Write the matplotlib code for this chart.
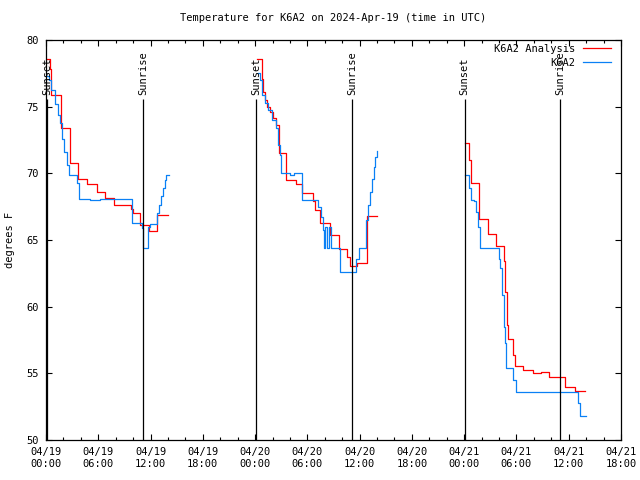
import numpy as np
import matplotlib
matplotlib.use('Agg')
import matplotlib.pyplot as plt
from matplotlib.ticker import MultipleLocator

# hours after 2024-04-19 00:00 UTC, temperature in degrees F
ana_h1 = [0.11, 0.46, 0.61, 1.69, 2.75, 3.71, 4.67, 5.82, 6.77, 7.81, 9.72, 9.99,
          10.79, 11.86, 12.71, 13.97]
ana_t1 = [78.6, 77.8, 75.9, 73.4, 70.75, 69.6, 69.2, 68.6, 68.15, 67.6, 67.3, 67.0,
          66.1, 65.7, 66.9, 66.9]
ana_h2 = [24.22, 24.76, 24.91, 25.14, 25.37, 25.71, 26.06, 26.4, 26.74, 27.58, 28.73,
          29.42, 30.59, 30.88, 31.45, 32.6, 33.67, 34.52, 34.9, 35.73, 36.81, 37.96]
ana_t2 = [78.6, 77.1, 76.1, 75.5, 75.0, 74.6, 74.15, 73.6, 71.5, 69.5, 69.2,
          68.5, 67.9, 67.25, 66.25, 65.4, 64.3, 63.75, 63.05, 63.3, 66.8, 66.8]
ana_h3 = [48.13, 48.59, 48.75, 49.67, 50.74, 51.65, 52.6, 52.74, 52.91, 53.03, 53.64,
          53.83, 54.72, 55.87, 56.78, 57.77, 59.57, 60.72, 61.87]
ana_t3 = [72.25, 71.0, 69.25, 66.55, 65.45, 64.55, 63.4, 61.1, 58.6, 57.6, 56.4,
          55.55, 55.25, 55.0, 55.1, 54.75, 54.0, 53.65, 53.65]

obs_h1 = [0.08, 0.34, 0.61, 1.0, 1.38, 1.61, 1.84, 2.07, 2.41, 2.67, 3.59, 3.75, 5.05,
          6.2, 7.69, 9.84, 10.98, 11.1, 11.67, 11.94, 12.74, 12.97, 13.2, 13.43,
          13.66, 13.83, 14.12]
obs_t1 = [77.3, 77.0, 76.25, 75.2, 74.4, 73.75, 72.6, 71.6, 70.6, 69.9, 69.3, 68.05, 68.0,
          68.05, 68.1, 66.3, 65.9, 64.4, 66.0, 66.2, 67.0, 67.6, 68.3, 68.9,
          69.5, 69.9, 69.9]
obs_h2 = [24.33, 24.56, 24.79, 25.14, 25.48, 25.94, 26.37, 26.63, 26.82, 27.01, 28.01,
          28.47, 29.38, 31.26, 31.57, 31.8, 31.91, 32.08, 32.31, 32.48, 32.68, 33.75,
          35.58, 35.87, 36.73, 36.96, 37.19, 37.42, 37.65, 37.82, 37.99]
obs_t2 = [77.5, 77.0, 75.9, 75.3, 74.75, 74.0, 73.4, 72.1, 71.4, 70.0, 69.9,
          70.0, 68.0, 67.5, 66.75, 65.75, 64.4, 66.0, 64.4, 66.0, 64.4, 62.6,
          63.6, 64.4, 66.5, 67.6, 68.6, 69.6, 70.5, 71.2, 71.7]
obs_h3 = [48.1, 48.5, 48.78, 49.07, 49.36, 49.59, 49.82, 51.94, 52.11, 52.34, 52.57,
          52.69, 52.8, 53.64, 53.95, 61.01, 61.3, 61.98]
obs_t3 = [69.9, 68.9, 68.0, 67.9, 67.1, 66.0, 64.4, 63.6, 62.9, 60.9, 58.5,
          57.25, 55.4, 54.5, 53.6, 52.8, 51.8, 51.8]

sunset_h = [0.1, 24.1, 48.05]
sunrise_h = [11.13, 35.1, 59.05]

mono = 'DejaVu Sans Mono'
fs = 7.5
red, blue = '#ff0000', '#0a80f5'

fig = plt.figure(figsize=(6.4, 4.8), dpi=100)
ax = fig.add_axes([46/640, 1 - 440/480, 575/640, 400/480])

for k, (h, t) in enumerate([(ana_h1, ana_t1), (ana_h2, ana_t2), (ana_h3, ana_t3)]):
    ax.plot(h, t, drawstyle='steps-post', color=red, lw=0.9,
            label='K6A2 Analysis' if k == 0 else None)
for k, (h, t) in enumerate([(obs_h1, obs_t1), (obs_h2, obs_t2), (obs_h3, obs_t3)]):
    ax.plot(h, t, drawstyle='steps-post', color=blue, lw=0.9,
            label='K6A2' if k == 0 else None)

# sun event markers
for name, hours in [('Sunset', sunset_h), ('Sunrise', sunrise_h)]:
    for h in hours:
        ax.vlines(h, 50, 75.55, color='black', lw=0.9)
        ax.text(h, 75.9, name, rotation=90, ha='center', va='bottom',
                fontsize=fs, family=mono)

ax.set_xlim(0, 66)
ax.set_ylim(50, 80)
xt = np.arange(0, 67, 6)
ax.set_xticks(xt)
ax.set_xticklabels(['04/%02d\n%02d:00' % (19 + h // 24, h % 24) for h in xt],
                   family=mono, fontsize=fs)
ax.xaxis.set_minor_locator(MultipleLocator(2))
ax.set_yticks(np.arange(50, 81, 5))
ax.set_yticklabels([str(v) for v in range(50, 81, 5)], family=mono, fontsize=fs)
ax.tick_params(which='both', direction='in', top=True, right=True, width=0.8)
ax.tick_params(which='major', length=4, pad=5)
ax.tick_params(which='minor', length=2)
for s in ax.spines.values():
    s.set_linewidth(0.9)

ax.set_ylabel('degrees F', family=mono, fontsize=fs, labelpad=8)
ax.set_title('Temperature for K6A2 on 2024-Apr-19 (time in UTC)', family=mono,
             fontsize=fs, pad=14)
leg = ax.legend(loc='upper right', bbox_to_anchor=(0.985, 0.993), frameon=False,
                markerfirst=False, prop={'family': mono, 'size': fs},
                handlelength=2.7, borderaxespad=0, borderpad=0.1,
                labelspacing=0.4, handletextpad=0.8)
for t in leg.get_texts():
    t.set_ha('right')

fig.savefig('out.png', dpi=100)
